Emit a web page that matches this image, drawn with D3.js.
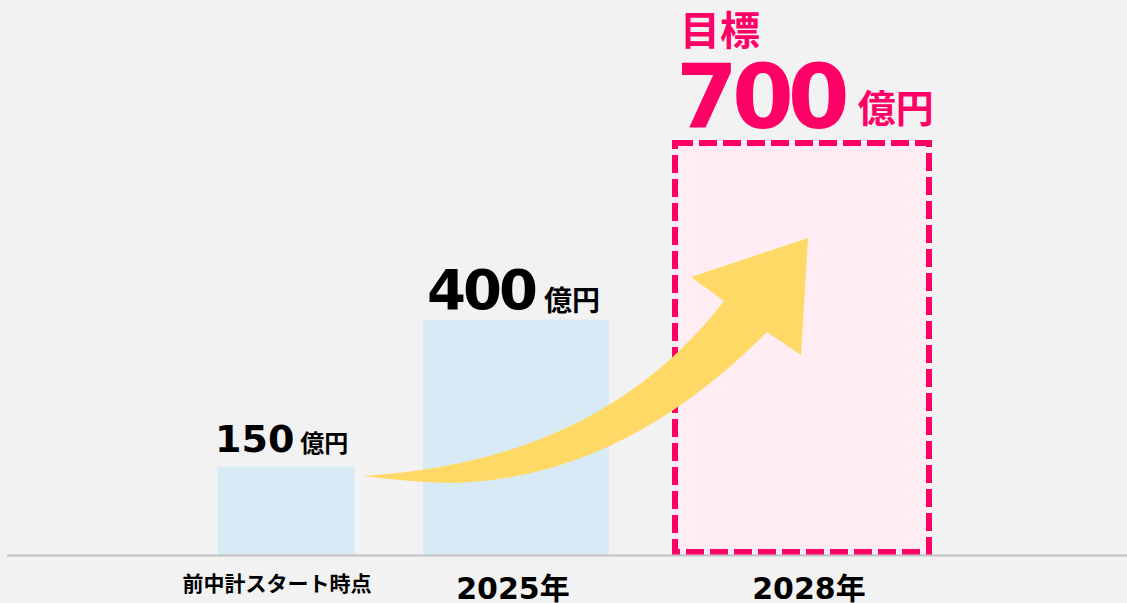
<!DOCTYPE html>
<html>
<head>
<meta charset="utf-8">
<script src="https://cdn.jsdelivr.net/npm/d3@7"></script>
<style>
  html, body { margin: 0; padding: 0; background: #f2f2f2; }
  svg { display: block; }
  .num { font-family: "DejaVu Sans", Verdana, sans-serif; font-weight: bold; }
  .jp { font-family: "Noto Sans CJK JP", sans-serif; font-weight: bold; }
</style>
</head>
<body>
<div id="chart"></div>
<script>
// data
const categories = ["前中計スタート時点", "2025年", "2028年"];
const values = [150, 400, 700];
const unit = "億円";
const target_label = "目標";

const width = 1127;
const height = 603;
const baseline_y = 555;

// layout (per category: bar center, bar width, label center)
const bar_center = [286, 516, 802];
const bar_width = [137, 186, 260];
const label_center = [277, 513, 809];

const y_scale = d3.scaleLinear()
  .domain([0, 700])
  .range([baseline_y, 143]);

const svg = d3.select('#chart')
  .append('svg')
    .attr('width', width)
    .attr('height', height);

svg.append('rect')
  .attr('width', width)
  .attr('height', height)
  .attr('fill', '#f2f2f2');

const rows = categories.map((c, i) => ({ cat: c, value: values[i], i: i }));
const actual = rows.slice(0, 2);
const target = rows[2];

// solid bars
svg.selectAll('.bar')
    .data(actual)
  .join('rect')
    .attr('class', 'bar')
    .attr('x', d => bar_center[d.i] - bar_width[d.i] / 2)
    .attr('width', d => bar_width[d.i])
    .attr('y', d => y_scale(d.value))
    .attr('height', d => y_scale(0) - y_scale(d.value))
    .attr('fill', '#d9eaf7');

// target bar (dashed)
svg.append('rect')
  .attr('x', bar_center[2] - bar_width[2] / 2 + 3)
  .attr('width', bar_width[2] - 6)
  .attr('y', y_scale(target.value))
  .attr('height', y_scale(0) - y_scale(target.value) - 3)
  .attr('fill', '#ffedf3')
  .attr('stroke', '#ff0066')
  .attr('stroke-width', 6)
  .attr('stroke-dasharray', '18 6');

// baseline
svg.append('line')
  .attr('x1', 7).attr('x2', width)
  .attr('y1', y_scale(0) + 0.5).attr('y2', y_scale(0) + 0.5)
  .attr('stroke', '#c0c0c0')
  .attr('stroke-width', 2);

// growth arrow
svg.append('path')
  .attr('d', 'M363,476 Q600,462 724,301 L691,277 L808,238 L801,355 L767,332 ' +
             'Q620,480 450,483 Q410,482 363,476 Z')
  .attr('fill', '#ffd966');

// value labels (number + unit)
const label_style = [
  { num: 38, unit: 24, color: '#000', dy: 0, ls: 0, dx: 6 },
  { num: 56, unit: 28, color: '#000', dy: 2, ls: -3, dx: 9 },
  { num: 89, unit: 38, color: '#ff0066', dy: -6, ls: -6, dx: 14 }
];
const label_pos = [
  { x: 215, y: 452 },
  { x: 427, y: 309 },
  { x: 676, y: 128 }
];

rows.forEach(d => {
  const s = label_style[d.i];
  const t = svg.append('text')
    .attr('x', label_pos[d.i].x)
    .attr('y', label_pos[d.i].y)
    .attr('fill', s.color);
  t.append('tspan')
    .attr('class', 'num')
    .attr('font-size', s.num)
    .attr('letter-spacing', s.ls)
    .text(d.value);
  t.append('tspan')
    .attr('class', 'jp')
    .attr('font-size', s.unit)
    .attr('letter-spacing', 0)
    .attr('dx', s.dx)
    .attr('dy', s.dy)
    .text(unit);
});

svg.append('text')
  .attr('class', 'jp')
  .attr('x', 680)
  .attr('y', 45)
  .attr('font-size', 40)
  .attr('fill', '#ff0066')
  .text(target_label);

// category labels
svg.selectAll('.cat')
    .data(rows)
  .join('text')
    .attr('class', d => d.i === 0 ? 'cat jp' : 'cat num')
    .attr('x', d => label_center[d.i])
    .attr('y', d => d.i === 0 ? 591 : 599)
    .attr('text-anchor', 'middle')
    .attr('font-size', d => d.i === 0 ? 21 : 30)
    .attr('fill', '#000')
    .each(function(d) {
      const el = d3.select(this);
      if (d.i === 0) {
        el.text(d.cat);
      } else {
        el.append('tspan').text(d.cat.slice(0, -1));
        el.append('tspan').attr('class', 'jp').text(d.cat.slice(-1));
      }
    });
</script>
</body>
</html>
